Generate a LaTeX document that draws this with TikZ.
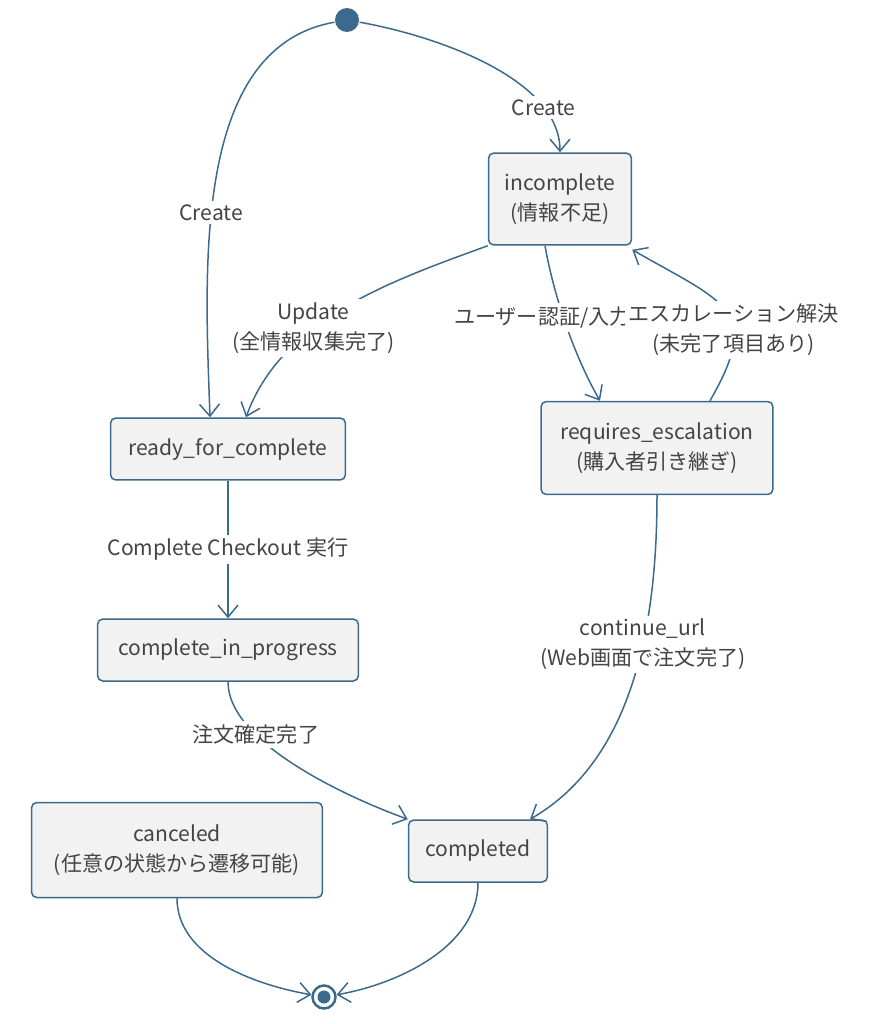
\documentclass[tikz,border=0pt]{standalone}
\usepackage{fontspec}
\setmainfont{Noto Sans CJK JP}
\usetikzlibrary{arrows.meta,positioning,shapes}
\definecolor{edgeblue}{HTML}{3B6A8C}
\definecolor{boxfill}{HTML}{F2F2F2}
\definecolor{txtgray}{HTML}{444444}

\tikzset{
  state/.style={rectangle, rounded corners=3pt, draw=edgeblue, fill=boxfill, line width=0.3mm,
    text=txtgray, align=center, minimum height=1.24cm, inner sep=2pt},
  lbl/.style={fill=white, text=txtgray, align=center, inner sep=2pt, font=\fontsize{12}{17}\selectfont},
}

\begin{document}
\begin{tikzpicture} [x=0.02cm, y=-0.02cm, >={Straight Barb[length=2.4mm,width=4mm]},
  line width=0.3mm, color=edgeblue, font=\fontsize{12}{17}\selectfont]

  \useasboundingbox (0,0) rectangle (893,1024);

  \node[circle, fill=edgeblue, minimum size=0.48cm, inner sep=0] (start) at (347,20) {};
  \node[state, minimum width=2.86cm, minimum height=1.84cm] (inc) at (560,199) {incomplete\\(情報不足)};
  \node[state, minimum width=4.7cm] (ready) at (228,449) {ready\_for\_complete};
  \node[state, minimum width=4.64cm, minimum height=1.86cm] (esc) at (657,448) {requires\_escalation\\(購入者引き継ぎ)};
  \node[state, minimum width=5.22cm] (prog) at (228,650) {complete\_in\_progress};
  \node[state, minimum width=5.82cm, minimum height=1.9cm] (cancel) at (177,850) {canceled\\(任意の状態から遷移可能)};
  \node[state, minimum width=2.78cm] (done) at (478,851) {completed};
  \node[circle, draw=edgeblue, line width=0.5mm, minimum size=0.46cm, inner sep=0] (end) at (324,997) {};
  \fill[edgeblue] (end) circle (0.13cm);

  \path[every edge/.style={draw=edgeblue, ->}]
    (start) edge[out=190, in=92, looseness=0.9] node[lbl, pos=0.58] {Create} ([xshift=-0.36cm]ready.north)
    (start) edge[out=-10, in=90, looseness=0.8] node[lbl, pos=0.78] {Create} (inc.north)
    (inc.south west) edge[out=200, in=70, looseness=0.9] node[lbl, pos=0.62] {Update\\(全情報収集完了)} ([xshift=0.36cm]ready.north)
    ([xshift=-0.3cm]inc.south) edge[out=-80, in=120, looseness=0.8] node[lbl, pos=0.45] {ユーザー認証/入力要求} ([xshift=-1.14cm]esc.north)
    ([xshift=1.06cm]esc.north) edge[out=60, in=-30, looseness=1.6] node[lbl, pos=0.35] {エスカレーション解決\\(未完了項目あり)} ([yshift=-0.08cm]inc.south east)
    (ready) edge node[lbl] {Complete Checkout 実行} (prog)
    (prog.south) edge[out=-90, in=160, looseness=0.7] node[lbl, pos=0.3] {注文確定完了} (done.north west)
    (esc.south) edge[out=-90, in=30, looseness=0.9] node[lbl, pos=0.4] {continue\_url\\(Web画面で注文完了)} ([xshift=1.04cm]done.north)
    (cancel.south) edge[out=-90, in=170, looseness=0.9] (end)
    (done.south) edge[out=-90, in=10, looseness=0.9] (end);

\end{tikzpicture}
\end{document}
